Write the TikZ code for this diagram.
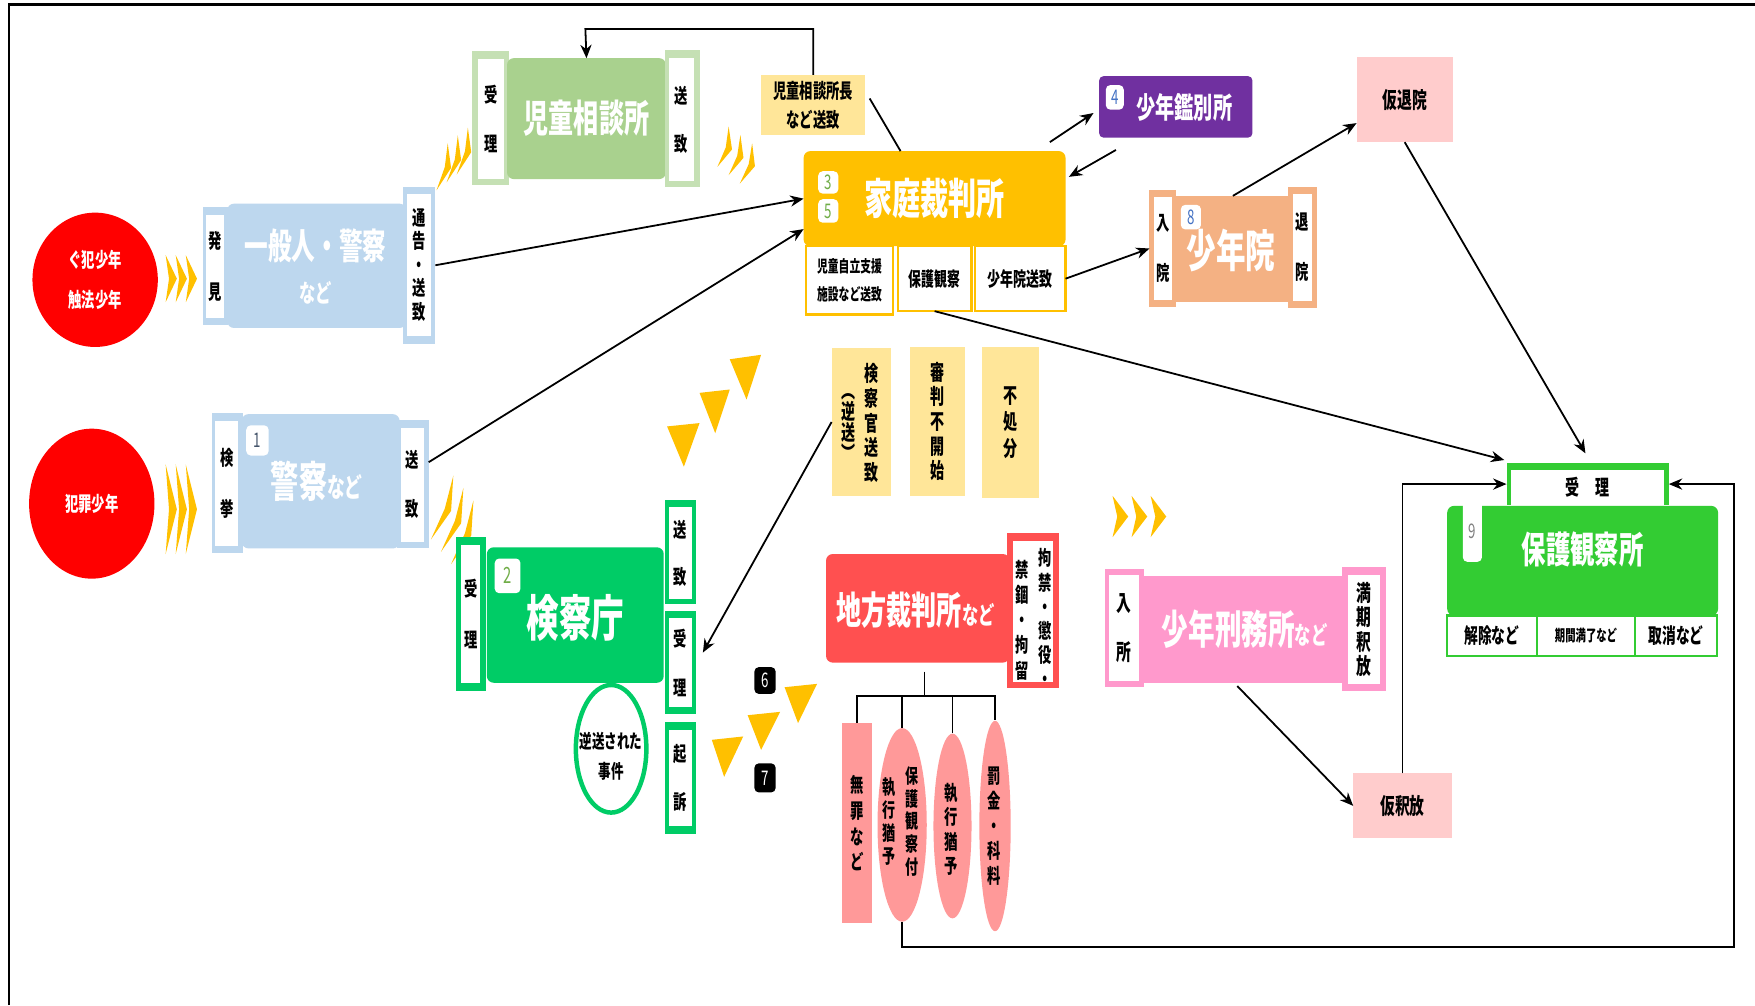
\documentclass[tikz,border=0pt]{standalone}
\usepackage{fontspec}
\setmainfont{Noto Sans CJK JP}[FakeStretch=0.66]
\usetikzlibrary{calc,shapes.geometric,arrows.meta}
\definecolor{cbl}{HTML}{BDD7EE}
\definecolor{cgl}{HTML}{C5E0B4}
\definecolor{cgm}{HTML}{A9D18E}
\definecolor{cyel}{HTML}{FFC000}
\definecolor{cpy}{HTML}{FFE699}
\definecolor{cpur}{HTML}{7030A0}
\definecolor{cor}{HTML}{F4B183}
\definecolor{cpk}{HTML}{FFCCCC}
\definecolor{cgr}{HTML}{00CC66}
\definecolor{crd}{HTML}{FF5050}
\definecolor{csal}{HTML}{FF9999}
\definecolor{cpink}{HTML}{FF99CC}
\definecolor{cgh}{HTML}{33CC33}
\definecolor{cbt}{HTML}{4472C4}
\definecolor{cgt}{HTML}{70AD47}
\definecolor{cbg}{HTML}{44546A}
\newcommand{\fz}[1]{\fontsize{#1}{#1}\selectfont}
\newcommand{\Bx}[7]{\node[#6, minimum width={(#4-#2)*0.5pt}, minimum height={(#5-#3)*0.5pt}] (#1) at ({(#2+#4)/2},{(#3+#5)/2}) {#7};}
\newcommand{\chevR}[4]{\fill[cyel] (#1,#2) -- ({#1+#4},{(#2+#3)/2}) -- (#1,#3) -- ({#1+0.3*#4},{(#2+#3)/2}) -- cycle;}
\newcommand{\Spk}[6]{\fill[cyel] (#1,#2) -- ({(#1+#3)/2+#5},{(#2+#4)/2+#6}) -- (#3,#4) -- ({(#1+#3)/2+0.3*#5},{(#2+#4)/2+0.3*#6}) -- cycle;}
\tikzset{
  bx/.style={rectangle, inner sep=0pt, outer sep=0pt},
  wt/.style={text=white, inner sep=0pt},
  vt/.style 2 args={align=center, inner sep=0pt, font=\bfseries\fontsize{#1}{#2}\selectfont},
  arr/.style={-{Stealth[length=6pt,width=5pt]}, line width=0.8pt},
  ln/.style={line width=0.8pt},
  badge/.style={bx, fill=white, rounded corners=2pt, font=\fz{9}},
  sub/.style={bx, fill=white, line width=1pt},
}
\begin{document}
\begin{tikzpicture}[x=0.5pt,y=-0.5pt]
\useasboundingbox (0,0) rectangle (1568,898);
\fill[white] (0,0) rectangle (1568,898);
% frame
\draw[line width=1pt] (8,898) -- (8,4) -- (1568,4);

% circles
\node[ellipse, fill=red, inner sep=0pt, minimum width=56pt, minimum height=60pt, text=white, align=center, font=\bfseries\fontsize{9}{18}\selectfont] (c1) at (85,250) {ぐ犯少年\\触法少年};
\node[ellipse, fill=red, inner sep=0pt, minimum width=56pt, minimum height=67pt, text=white, font=\bfseries\fz{9}] (c2) at (82,450) {犯罪少年};

% chevrons
\chevR{148}{228}{270}{10}\chevR{157}{228}{270}{10}\chevR{166}{228}{270}{10}
\chevR{148}{415}{495}{10}\chevR{157}{415}{495}{10}\chevR{166}{415}{495}{10}
\chevR{994}{443}{480}{14}\chevR{1011}{443}{480}{14}\chevR{1028}{443}{480}{14}
% tilted spikes
\Spk{390}{170}{400}{128}{8}{1}\Spk{399}{163}{409}{121}{8}{1}\Spk{408}{156}{418}{114}{8}{1}
\Spk{641}{149}{651}{113}{8}{2.5}\Spk{651}{156.5}{661.5}{120.5}{8}{2.5}\Spk{661}{164}{672}{128}{8}{2.5}
\Spk{385}{482}{405}{425}{8}{3}\Spk{394}{493}{414}{436}{8}{3}\Spk{403}{504}{423}{447}{8}{3}
% triangles
\fill[cyel] (596,381) -- (625,378) -- (611,417) -- cycle;
\fill[cyel] (625,351) -- (652,348) -- (639,387) -- cycle;
\fill[cyel] (652,321) -- (680,317) -- (667,357) -- cycle;
\fill[cyel] (636,661) -- (664,658) -- (647,694) -- cycle;
\fill[cyel] (668,639) -- (697,636) -- (680,670) -- cycle;
\fill[cyel] (701,614) -- (730,611) -- (713,646) -- cycle;

% 一般人・警察
\Bx{hk_o}{181}{185}{204}{290}{bx,fill=cbl}{}
\Bx{hk_i}{184}{192}{200}{284}{bx,fill=white,vt={9}{22.5}}{発\\見}
\Bx{ip}{203}{182}{363}{293}{bx,fill=cbl,rounded corners=3pt}{}
\node[wt,font=\bfseries\fz{16}] (ip_t) at (282,220) {一般人・警察};
\node[wt,font=\bfseries\fz{11}] (ip_s) at (282,262) {など};
\Bx{ts_o}{360}{167}{389}{307}{bx,fill=cbl}{}
\Bx{ts_i}{364}{173}{385}{300}{bx,fill=white,vt={9}{10.5}}{通\\告\\・\\送\\致}

% 警察など
\Bx{kk_o}{189}{369}{217}{494}{bx,fill=cbl}{}
\Bx{kk_i}{192}{376}{213}{488}{bx,fill=white,vt={9}{22.5}}{検\\挙}
\Bx{kp}{216}{370}{357}{490}{bx,fill=cbl,rounded corners=3pt}{}
\node[wt,font=\bfseries\fz{19}] (kp_t) at (283,430) {警察{\fz{12}など}};
\Bx{bd1}{220}{380}{240}{407}{badge,text=cbg}{1}
\Bx{ks_o}{355}{375}{383}{490}{bx,fill=cbl}{}
\Bx{ks_i}{358}{382}{379}{484}{bx,fill=white,vt={9}{22}}{送\\致}

% 児童相談所
\Bx{jr_o}{422}{46}{455}{165}{bx,fill=cgl}{}
\Bx{jr_i}{427}{53}{450}{160}{bx,fill=white,vt={9}{22}}{受\\理}
\Bx{jm}{453}{52}{595}{160}{bx,fill=cgm,rounded corners=3pt,text=white,font=\bfseries\fz{17}}{児童相談所}
\Bx{js_o}{594}{45}{625}{167}{bx,fill=cgl}{}
\Bx{js_i}{598}{52}{620}{162}{bx,fill=white,vt={9}{21.5}}{送\\致}

% 児童相談所長など送致
\Bx{jc}{680}{67}{773}{121}{bx,fill=cpy,vt={9}{13}}{児童相談所長\\など送致}

% 家庭裁判所
\Bx{kt}{718}{135}{952}{220}{bx,fill=cyel,rounded corners=3pt,text=white,font=\bfseries\fz{19}}{家庭裁判所}
\Bx{bd3}{731}{153}{749}{173}{badge,text=cgt}{3}
\Bx{bd5}{731}{178}{749}{199}{badge,text=cgt}{5}
\Bx{kt1}{720}{220}{798}{281}{sub,draw=cyel,vt={7.3}{12.5}}{児童自立支援\\施設など送致}
\Bx{kt2}{802}{220}{868}{278}{sub,draw=cyel,font=\bfseries\fz{8.7}}{保護観察}
\Bx{kt3}{871}{220}{952}{278}{sub,draw=cyel,font=\bfseries\fz{8.8}}{少年院送致}

% 少年鑑別所
\Bx{kb}{982}{68}{1119}{123}{bx,fill=cpur,rounded corners=2pt}{}
\node[wt,font=\bfseries\fz{13}] (kb_t) at (1058,96) {少年鑑別所};
\Bx{bd4}{988}{76}{1004}{98}{badge,text=cbt}{4}

% 少年院
\Bx{sl_o}{1027}{170}{1051}{274}{bx,fill=cor}{}
\Bx{sl_i}{1031}{176}{1047}{268}{bx,fill=white,vt={9}{22.5}}{入\\院}
\Bx{sin}{1050}{175}{1153}{270}{bx,fill=cor}{}
\node[wt,font=\bfseries\fz{20}] (sin_t) at (1100,224) {少年院};
\Bx{bd8}{1055}{183}{1073}{205}{badge,text=cbt}{8}
\Bx{sr_o}{1151}{167}{1177}{275}{bx,fill=cor}{}
\Bx{sr_i}{1155}{173}{1172}{269}{bx,fill=white,vt={9}{22.5}}{退\\院}

% 仮退院
\Bx{ktin}{1212}{51}{1298}{127}{bx,fill=cpk,font=\bfseries\fz{10}}{仮退院}

% yellow decision boxes
\Bx{y1}{743}{311}{796}{443}{bx,fill=cpy}{}
\node[vt={9.5}{11}] (y1a) at (779,378) {検\\察\\官\\送\\致};
\node[vt={9.5}{9.5}] (y1b) at (758,382) {︵\\逆\\送\\︶};
\Bx{y2}{813}{310}{862}{443}{bx,fill=cpy,vt={9.5}{11}}{審\\判\\不\\開\\始}
\Bx{y3}{877}{310}{928}{445}{bx,fill=cpy,vt={9.5}{11.75}}{不\\処\\分}

% 検察庁
\Bx{kl_o}{407}{480}{434}{617}{bx,fill=cgr}{}
\Bx{kl_i}{412}{487}{429}{610}{bx,fill=white,vt={9}{22.5}}{受\\理}
\Bx{kc}{435}{489}{593}{610}{bx,fill=cgr,rounded corners=3pt}{}
\node[wt,font=\bfseries\fz{22}] (kc_t) at (514,552) {検察庁};
\Bx{bd2}{442}{499}{465}{530}{badge,text=cgt,font=\fz{10}}{2}
\Bx{sd_o}{594}{447}{622}{540}{bx,fill=cgr}{}
\Bx{sd_i}{598}{453}{618}{535}{bx,fill=white,vt={9}{21}}{送\\致}
\Bx{kr_o}{594}{546}{622}{638}{bx,fill=cgr}{}
\Bx{kr_i}{598}{552}{618}{632}{bx,fill=white,vt={9}{22}}{受\\理}
\Bx{ki_o}{594}{645}{622}{745}{bx,fill=cgr}{}
\Bx{ki_i}{598}{652}{618}{738}{bx,fill=white,vt={9}{21.5}}{起\\訴}
\node[ellipse, draw=cgr, line width=2pt, fill=white, inner sep=0pt, minimum width=31.5pt, minimum height=57pt] (gy) at (546,669) {};
\node[vt={8.5}{13.5}] (gy_t) at (546,676) {逆送された\\事件};

% badges 6 7
\Bx{b6}{674}{596}{693}{620}{bx,fill=black,rounded corners=2pt,text=white,font=\fz{9}}{6}
\Bx{b7}{674}{682}{693}{708}{bx,fill=black,rounded corners=2pt,text=white,font=\fz{9}}{7}

% 地方裁判所
\Bx{cs}{738}{495}{902}{592}{bx,fill=crd,rounded corners=3pt}{}
\node[wt,font=\bfseries\fz{17}] (cs_t) at (818,545) {地方裁判所{\fz{11}など}};
\Bx{cr_o}{900}{476}{946}{615}{bx,fill=crd}{}
\Bx{cr_i}{905}{483}{941}{609}{bx,fill=white}{}
\node[vt={9}{10.8}] (cr_a) at (934,552) {拘\\禁\\・\\懲\\役\\・};
\node[vt={9}{11.25}] (cr_b) at (913,554) {禁\\錮\\・\\拘\\留};

% outcomes
\Bx{nz}{752}{646}{779}{825}{bx,fill=csal,vt={9}{11.5}}{無\\罪\\な\\ど}
\node[ellipse,fill=csal,inner sep=0pt,minimum width=22pt,minimum height=86.5pt] (e1) at (806,737) {};
\node[vt={8.8}{10.25}] (e1a) at (815,734) {保\\護\\観\\察\\付};
\node[vt={8.8}{10.2}] (e1b) at (794,734) {執\\行\\猶\\予};
\node[ellipse,fill=csal,inner sep=0pt,minimum width=17pt,minimum height=82.5pt] (e2) at (851,738) {};
\node[vt={9}{11}] (e2a) at (850,741) {執\\行\\猶\\予};
\node[ellipse,fill=csal,inner sep=0pt,minimum width=14pt,minimum height=94pt] (e3) at (889,738) {};
\node[vt={9}{11.25}] (e3a) at (888,738) {罰\\金\\・\\科\\料};

% 少年刑務所
\Bx{kjl_o}{987}{508}{1022}{614}{bx,fill=cpink}{}
\Bx{kjl_i}{991}{514}{1018}{608}{bx,fill=white,vt={10}{22}}{入\\所}
\Bx{kj}{1021}{515}{1200}{610}{bx,fill=cpink}{}
\node[wt,font=\bfseries\fz{18}] (kj_t) at (1112,562) {少年刑務所{\fz{11}など}};
\Bx{kjr_o}{1199}{507}{1238}{617}{bx,fill=cpink}{}
\Bx{kjr_i}{1204}{514}{1233}{611}{bx,fill=white,vt={10}{11}}{満\\期\\釈\\放}

% 仮釈放
\Bx{kh}{1209}{691}{1297}{749}{bx,fill=cpk,font=\bfseries\fz{10}}{仮釈放}

% 保護観察所
\Bx{hj_o}{1346}{414}{1491}{451}{bx,fill=cgh}{}
\Bx{hj_i}{1350}{420}{1487}{451}{bx,fill=white,font=\bfseries\fz{9.5}}{受\hspace{7pt}理}
\Bx{hm}{1293}{452}{1535}{550}{bx,fill=cgh,rounded corners=3pt}{}
\node[wt,font=\bfseries\fz{16.5}] (hm_t) at (1414,491) {保護観察所};
\Bx{bd9}{1307}{447}{1324}{502}{badge,text=gray}{9}
\Bx{hb1}{1293}{550}{1373}{586}{sub,draw=cgh,font=\bfseries\fz{9.3}}{解除など}
\Bx{hb2}{1373}{550}{1461}{586}{sub,draw=cgh,font=\bfseries\fz{7}}{期間満了など}
\Bx{hb3}{1461}{550}{1534}{586}{sub,draw=cgh,font=\bfseries\fz{9.3}}{取消など}

% connectors
\draw[arr] (ts_o.east) -- (kt.west);
\draw[arr] ($(ks_o.north east)!0.33!(ks_o.south east)$) -- ($(kt.north west)!0.82!(kt.south west)$);
\coordinate (loopTop) at (523,26);
\draw[arr] (jc.north) |- (loopTop) -- (jm.north);
\draw[ln] ($(jc.east)+(4,-6)$) -- ($(kt.north west)!0.37!(kt.north east)$);
\draw[arr] ($(kt.north east)+(-14,-8)$) -- ($(kb.south west)+(-5,-22)$);
\draw[arr] ($(kb.south west)+(15,11)$) -- ($(kt.north east)+(3,23)$);
\draw[arr] (kt3.east) -- (sl_o.west);
\draw[arr] (sin.north) -- ($(ktin.south west)+(0,-17)$);
\draw[arr] (ktin.south) -- ($(hj_o.north)+(-2,-9)$);
\draw[arr] (kt2.south) -- ($(hj_o.north west)+(-2,-3)$);
\draw[arr] (y1.west) -- ($(kr_o.east)+(6,-9)$);
\coordinate (tr) at (826,600);
\coordinate (tj) at (826,622);
\draw[ln] (tr) -- (tj);
\draw[ln] (nz.north) -- (nz.north |- tj) -- (e3.north |- tj) -- (e3.north);
\draw[ln] (e1.north) -- (e1.north |- tj);
\draw[ln] (e2.north) -- (e2.north |- tj);
\coordinate (lpA) at (1549,846);
\draw[arr] (e1.south) |- (lpA) |- (hj_o.east);
\draw[arr] ($(kj.south)+(-5,3)$) -- (kh.west);
\draw[arr] (kh.north) |- (hj_o.west);
\end{tikzpicture}
\end{document}
